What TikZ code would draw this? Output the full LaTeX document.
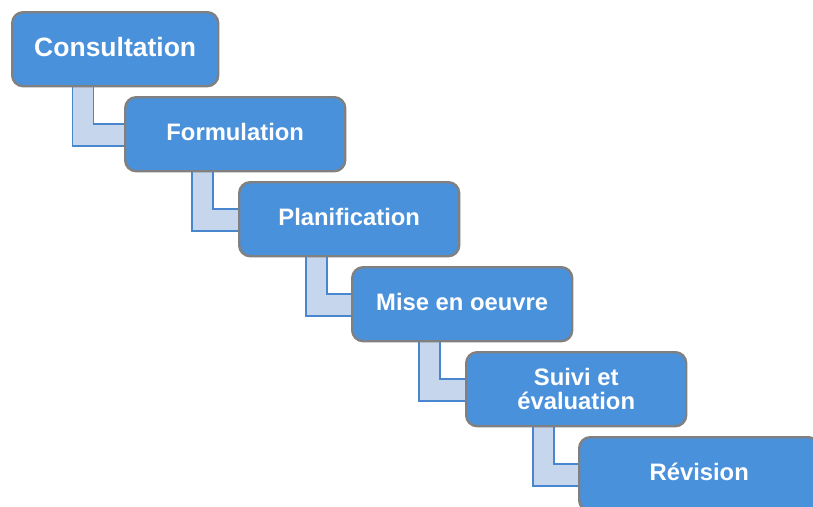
\documentclass[tikz,border=0pt]{standalone}
\usepackage{fontspec}
\setmainfont{Liberation Sans}
\usetikzlibrary{calc}
\pgfdeclarelayer{background}
\pgfsetlayers{background,main}
\definecolor{boxblue}{RGB}{74,145,220}
\definecolor{boxgray}{RGB}{128,128,128}
\definecolor{bandfill}{RGB}{198,214,237}
\definecolor{bandline}{RGB}{72,134,207}
\tikzset{
  stepbox/.style={draw=boxgray, line width=2.4pt, fill=boxblue, rounded corners=11pt,
    text=white, align=center, inner sep=0pt, anchor=north west,
    minimum width=220pt, minimum height=74pt,
    font=\fontsize{23.8}{24.5}\selectfont\bfseries},
  oneline/.style={text height=17pt, text depth=4pt},
  band/.style={draw=bandline, line width=1.6pt, fill=bandfill, line join=miter},
}
\begin{document}
\begin{tikzpicture}[x=1pt,y=-1pt]
\useasboundingbox (0,0) rectangle (813,506);
\clip (0,0) rectangle (813,506);
\node[stepbox, oneline, minimum width=206pt, font=\fontsize{26.5}{28}\selectfont\bfseries, text height=19pt, text depth=4.5pt] (c1) at (11,11) {Consultation};
\node[stepbox, oneline] (c2) at (124,96) {Formulation};
\node[stepbox, oneline] (c3) at (238,181) {Planification};
\node[stepbox, oneline] (c4) at (351,266) {Mise en oeuvre};
\node[stepbox] (c5) at (465,351) {Suivi et\\évaluation};
\node[stepbox, oneline, minimum width=240pt] (c6) at (578,436) {Révision};
\begin{pgfonlayer}{background}
\draw[band] ($(c1.south west)+(61.5,-4)$) |- ($(c2.west)+(1,12)$) -- ($(c2.west)+(1,-10)$) -| ($(c1.south west)+(82.5,-4)$) -- cycle;
\draw[band] ($(c2.south west)+(68,-4)$) |- ($(c3.west)+(1,12)$) -- ($(c3.west)+(1,-10)$) -| ($(c2.south west)+(89,-4)$) -- cycle;
\draw[band] ($(c3.south west)+(68,-4)$) |- ($(c4.west)+(1,12)$) -- ($(c4.west)+(1,-10)$) -| ($(c3.south west)+(89,-4)$) -- cycle;
\draw[band] ($(c4.south west)+(68,-4)$) |- ($(c5.west)+(1,12)$) -- ($(c5.west)+(1,-10)$) -| ($(c4.south west)+(89,-4)$) -- cycle;
\draw[band] ($(c5.south west)+(68,-4)$) |- ($(c6.west)+(1,12)$) -- ($(c6.west)+(1,-10)$) -| ($(c5.south west)+(89,-4)$) -- cycle;
\end{pgfonlayer}
\end{tikzpicture}
\end{document}
